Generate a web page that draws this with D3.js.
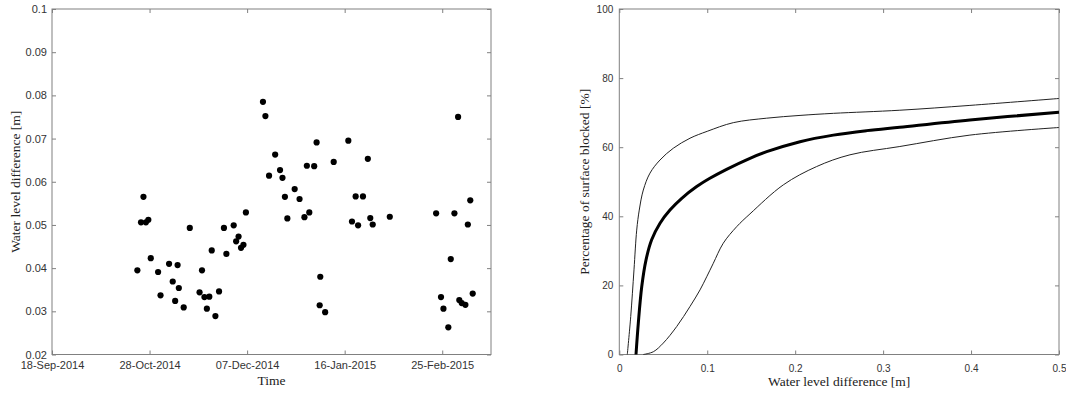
<!DOCTYPE html>
<html><head><meta charset="utf-8">
<script src="https://cdn.jsdelivr.net/npm/d3@7"></script>
<style>
body{margin:0;background:#fff;}
svg{display:block;}
</style></head>
<body>
<svg id="c" width="1066" height="394"></svg>
<script>
// ---- Left panel data: time series of water level difference ----
const obsDates = [
"2014-10-23 00","2014-10-24 12","2014-10-25 12","2014-10-26 12","2014-10-27 12","2014-10-28 12",
"2014-10-31 12","2014-11-01 12","2014-11-05 00","2014-11-06 12","2014-11-07 12","2014-11-08 12",
"2014-11-09 00","2014-11-11 00","2014-11-13 12","2014-11-17 12","2014-11-18 12","2014-11-19 12",
"2014-11-20 12","2014-11-21 12","2014-11-22 12","2014-11-24 00","2014-11-25 12","2014-11-27 12",
"2014-11-28 12","2014-12-01 12","2014-12-02 12","2014-12-03 12","2014-12-04 12","2014-12-05 12",
"2014-12-06 12","2014-12-13 12","2014-12-14 12","2014-12-16 00","2014-12-18 12","2014-12-20 12",
"2014-12-21 12","2014-12-22 12","2014-12-23 12","2014-12-26 12","2014-12-28 12","2014-12-30 12",
"2014-12-31 12","2015-01-01 12","2015-01-03 12","2015-01-04 12","2015-01-06 00","2015-01-05 18",
"2015-01-08 00","2015-01-11 12","2015-01-17 12","2015-01-19 00","2015-01-20 12","2015-01-21 12",
"2015-01-23 12","2015-01-25 12","2015-01-26 12","2015-01-27 12","2015-02-03 12","2015-02-22 12",
"2015-02-24 12","2015-02-25 12","2015-02-27 12","2015-02-28 12","2015-03-02 00","2015-03-03 12",
"2015-03-04 00","2015-03-05 00","2015-03-06 12","2015-03-07 12","2015-03-08 12","2015-03-09 12"
];
const obsLevels = [
0.0395,0.0506,0.0565,0.0506,0.0512,0.0423,
0.0391,0.0337,0.0410,0.0369,0.0324,0.0407,
0.0354,0.0309,0.0493,0.0344,0.0395,0.0333,
0.0306,0.0334,0.0441,0.0289,0.0346,0.0493,
0.0433,0.0499,0.0462,0.0473,0.0447,0.0454,
0.0529,0.0785,0.0752,0.0614,0.0663,0.0627,
0.0609,0.0565,0.0515,0.0583,0.0560,0.0518,
0.0637,0.0529,0.0636,0.0691,0.0380,0.0314,
0.0298,0.0646,0.0695,0.0508,0.0566,0.0499,
0.0566,0.0653,0.0516,0.0501,0.0519,0.0527,
0.0333,0.0306,0.0263,0.0421,0.0527,0.0750,
0.0326,0.0319,0.0315,0.0501,0.0557,0.0341
];
const timeTicks = ["2014-09-18","2014-10-28","2014-12-07","2015-01-16","2015-02-25"];
const timeDomain = ["2014-09-18","2015-03-17"];
const levelTicks = [0.02,0.03,0.04,0.05,0.06,0.07,0.08,0.09,0.1];

// ---- Right panel data: blocked surface vs water level difference ----
const midX = [0.019,0.0216,0.0255,0.0304,0.0368,0.0463,0.0576,0.071,0.088,0.103,0.122,0.1486,0.1676,0.2055,0.2434,0.2813,0.319,0.3987,0.5];
const midY = [0,9,19.6,27.4,33.2,38,41.8,45.2,48.6,51,53.6,56.8,58.7,61.6,63.5,64.8,65.8,67.9,70.1];
const upX  = [0.0091,0.013,0.0167,0.0198,0.0227,0.0273,0.0349,0.0463,0.0614,0.0804,0.1,0.1296,0.1676,0.2055,0.2434,0.319,0.3987,0.5];
const upY  = [0,11,24.5,36,41.8,47.6,52.5,56.3,59.7,62.6,64.6,67.1,68.4,69.2,69.8,70.7,72.1,74.1];
const loX  = [0.0273,0.0387,0.05,0.0653,0.0804,0.0918,0.0994,0.1069,0.1182,0.1335,0.1486,0.1865,0.2244,0.2623,0.319,0.3987,0.5];
const loY  = [0,0.8,3.3,8.1,13.9,18.7,22.5,26.4,32.2,37,40.7,49.1,54.4,57.8,60.2,63.5,65.7];
const wlTicks = [0,0.1,0.2,0.3,0.4,0.5];
const pctTicks = [0,20,40,60,80,100];

const svg = d3.select("#c");
const parseDT = d3.timeParse("%Y-%m-%d %H");
const parseD = d3.timeParse("%Y-%m-%d");
const plotTop = 9, plotBottom = 354.5;
const axisColor = "#808080";
const sans = "'Liberation Sans', Arial, sans-serif";
const serif = "'Liberation Serif', 'Times New Roman', serif";

function styleAxis(g, fs){
  g.select(".domain").remove();
  g.selectAll(".tick line").attr("stroke", axisColor);
  g.selectAll(".tick text").attr("font-family", sans).attr("font-size", fs).attr("fill","#333");
}
function frame(x0,x1){
  svg.append("rect").attr("x",x0).attr("y",plotTop).attr("width",x1-x0).attr("height",plotBottom-plotTop)
    .attr("fill","none").attr("stroke",axisColor).attr("stroke-width",1);
}

// ---------- Left panel ----------
{
  const L = 52, R = 491;
  const x = d3.scaleTime().domain(timeDomain.map(parseD)).range([L, R]);
  const y = d3.scaleLinear().domain([0.02, 0.1]).range([plotBottom, plotTop]);
  const fmt = d3.timeFormat("%d-%b-%Y");
  const tv = timeTicks.map(parseD);
  svg.append("g").attr("transform",`translate(0,${plotBottom})`)
    .call(d3.axisBottom(x).tickValues(tv).tickFormat(fmt).tickSizeInner(-4).tickSizeOuter(0).tickPadding(7))
    .call(g=>styleAxis(g,11));
  svg.append("g").attr("transform",`translate(0,${plotTop})`)
    .call(d3.axisTop(x).tickValues(tv).tickFormat("").tickSizeInner(-4).tickSizeOuter(0))
    .call(g=>styleAxis(g,11));
  svg.append("g").attr("transform",`translate(${L},0)`)
    .call(d3.axisLeft(y).tickValues(levelTicks).tickFormat(d=>d3.format("")(+d.toFixed(2))).tickSizeInner(-4).tickSizeOuter(0).tickPadding(5))
    .call(g=>styleAxis(g,11));
  svg.append("g").attr("transform",`translate(${R},0)`)
    .call(d3.axisRight(y).tickValues(levelTicks).tickFormat("").tickSizeInner(-4).tickSizeOuter(0))
    .call(g=>styleAxis(g,11));
  frame(L,R);
  svg.append("g").selectAll("circle").data(obsDates.map((d,i)=>({t:parseDT(d), v:obsLevels[i]})))
    .join("circle").attr("cx",d=>x(d.t)).attr("cy",d=>y(d.v)).attr("r",3.1).attr("fill","#000");
  svg.append("text").attr("x",(L+R)/2).attr("y",385).attr("text-anchor","middle")
    .attr("font-family",serif).attr("font-size",13.5).attr("fill","#222").text("Time");
  svg.append("text").attr("transform",`translate(20,${(plotTop+plotBottom)/2}) rotate(-90)`).attr("text-anchor","middle")
    .attr("font-family",serif).attr("font-size",13.5).attr("fill","#222").text("Water level difference [m]");
}

// ---------- Right panel ----------
{
  const L = 619.3, R = 1059;
  const x = d3.scaleLinear().domain([0,0.5]).range([L,R]);
  const y = d3.scaleLinear().domain([0,100]).range([plotBottom, plotTop]);
  svg.append("g").attr("transform",`translate(0,${plotBottom})`)
    .call(d3.axisBottom(x).tickValues(wlTicks).tickFormat(d=>d3.format("")(+d.toFixed(1))).tickSizeInner(-4).tickSizeOuter(0).tickPadding(10))
    .call(g=>styleAxis(g,10));
  svg.append("g").attr("transform",`translate(0,${plotTop})`)
    .call(d3.axisTop(x).tickValues(wlTicks).tickFormat("").tickSizeInner(-4).tickSizeOuter(0))
    .call(g=>styleAxis(g,10));
  svg.append("g").attr("transform",`translate(${L},0)`)
    .call(d3.axisLeft(y).tickValues(pctTicks).tickSizeInner(-4).tickSizeOuter(0).tickPadding(6))
    .call(g=>styleAxis(g,10));
  svg.append("g").attr("transform",`translate(${R},0)`)
    .call(d3.axisRight(y).tickValues(pctTicks).tickFormat("").tickSizeInner(-4).tickSizeOuter(0))
    .call(g=>styleAxis(g,10));
  frame(L,R);
  const line = d3.line().x(d=>x(d[0])).y(d=>y(d[1])).curve(d3.curveCatmullRom.alpha(0.5));
  const zip = (a,b)=>a.map((v,i)=>[v,b[i]]);
  svg.append("path").datum(zip(upX,upY)).attr("d",line).attr("fill","none").attr("stroke","#222").attr("stroke-width",1);
  svg.append("path").datum(zip(loX,loY)).attr("d",line).attr("fill","none").attr("stroke","#222").attr("stroke-width",1);
  svg.append("path").datum(zip(midX,midY)).attr("d",line).attr("fill","none").attr("stroke","#000").attr("stroke-width",3);
  svg.append("text").attr("x",(L+R)/2).attr("y",386).attr("text-anchor","middle")
    .attr("font-family",serif).attr("font-size",13.5).attr("fill","#222").text("Water level difference [m]");
  svg.append("text").attr("transform",`translate(589,${(plotTop+plotBottom)/2}) rotate(-90)`).attr("text-anchor","middle")
    .attr("font-family",serif).attr("font-size",13.5).attr("fill","#222").text("Percentage of surface blocked [%]");
}
</script>
</body></html>
